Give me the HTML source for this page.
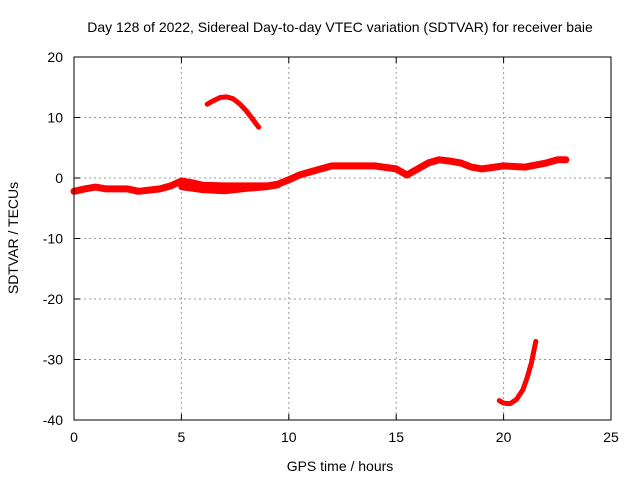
<!DOCTYPE html>
<html><head><meta charset="utf-8"><style>
body{margin:0;background:#fff}
svg{display:block;font-family:"Liberation Sans",sans-serif}
</style></head><body>
<svg width="640" height="480" id="c">
<text x="340" y="32" font-size="14" text-anchor="middle">Day 128 of 2022, Sidereal Day-to-day VTEC variation (SDTVAR) for receiver baie</text>
<text x="340" y="471" font-size="14" text-anchor="middle">GPS time / hours</text>
<text transform="translate(18,238) rotate(-90)" font-size="14" text-anchor="middle">SDTVAR / TECUs</text>
<g id="grid"></g><g id="marks"></g>
<rect x="74" y="57" width="537" height="363" fill="none" stroke="#000" stroke-width="1"/>
</svg>
<script>
const xTicks=[0,5,10,15,20,25];
const yTicks=[20,10,0,-10,-20,-30,-40];
const mainX=[0,0.5,1,1.5,2,2.5,3,3.5,4,4.5,5,5.5,6,7,8,9,9.5,10,10.5,11,11.5,12,13,14,15,15.5,16,16.5,17,17.5,18,18.5,19,20,21,22,22.5,22.9];
const mainY=[-2.2,-1.8,-1.5,-1.8,-1.8,-1.8,-2.2,-2,-1.8,-1.3,-0.5,-0.8,-1.2,-1.3,-1.3,-1.3,-1,-0.3,0.5,1,1.5,2,2,2,1.5,0.5,1.5,2.5,3,2.8,2.5,1.8,1.5,2,1.8,2.5,3,3];
const lowX=[5,6,7,8,9,9.5];
const lowY=[-1.5,-2,-2.2,-1.8,-1.5,-1.2];
const arc1X=[6.2,6.5,6.8,7.1,7.4,7.7,8,8.3,8.6];
const arc1Y=[12.2,12.8,13.3,13.4,13.1,12.3,11.2,9.8,8.4];
const arc2X=[19.8,20,20.3,20.6,20.9,21.1,21.3,21.5];
const arc2Y=[-36.8,-37.2,-37.3,-36.6,-35,-33,-30.5,-27];
const NS='http://www.w3.org/2000/svg';
const sx=v=>74+v*21.48, sy=v=>178-v*6.05;
const grid=document.getElementById('grid'),marks=document.getElementById('marks'),svg=document.getElementById('c');
function mk(t,a,p){const e=document.createElementNS(NS,t);for(const k in a)e.setAttribute(k,a[k]);p.appendChild(e);return e;}
xTicks.forEach(t=>{
 if(t>0&&t<25){const l=mk('line',{x1:sx(t),x2:sx(t),y1:57,y2:420,stroke:'#999','stroke-dasharray':'2,3'},grid);
 }
 const tk=mk('path',{d:`M${sx(t)},420v-6M${sx(t)},57v6`,stroke:'#000'},grid);
 
 const tx=mk('text',{x:sx(t),y:442,'font-size':14,'text-anchor':'middle'},svg);tx.textContent=t;
 
});
yTicks.forEach(t=>{
 if(t<20&&t>-40){const l=mk('line',{x1:74,x2:611,y1:sy(t),y2:sy(t),stroke:'#999','stroke-dasharray':'2,3'},grid);
 }
 const tk=mk('path',{d:`M74,${sy(t)}h6M611,${sy(t)}h-6`,stroke:'#000'},grid);
 
 const tx=mk('text',{x:63,y:sy(t)+5,'font-size':14,'text-anchor':'end'},svg);tx.textContent=t;
 
});
function series(xs,ys,w,name){
 const d=xs.map((x,i)=>(i?'L':'M')+sx(x).toFixed(1)+','+sy(ys[i]).toFixed(1)).join('');
 const p=mk('path',{d:d,fill:'none',stroke:'#f00','stroke-width':w,'stroke-linejoin':'round','stroke-linecap':'round'},marks);
 
}
series(mainX,mainY,7,'main-series');
series(lowX,lowY,6,'lower-band-series');
series(arc1X,arc1Y,5,'arc-series-1');
series(arc2X,arc2Y,5,'arc-series-2');
</script>
</body></html>
